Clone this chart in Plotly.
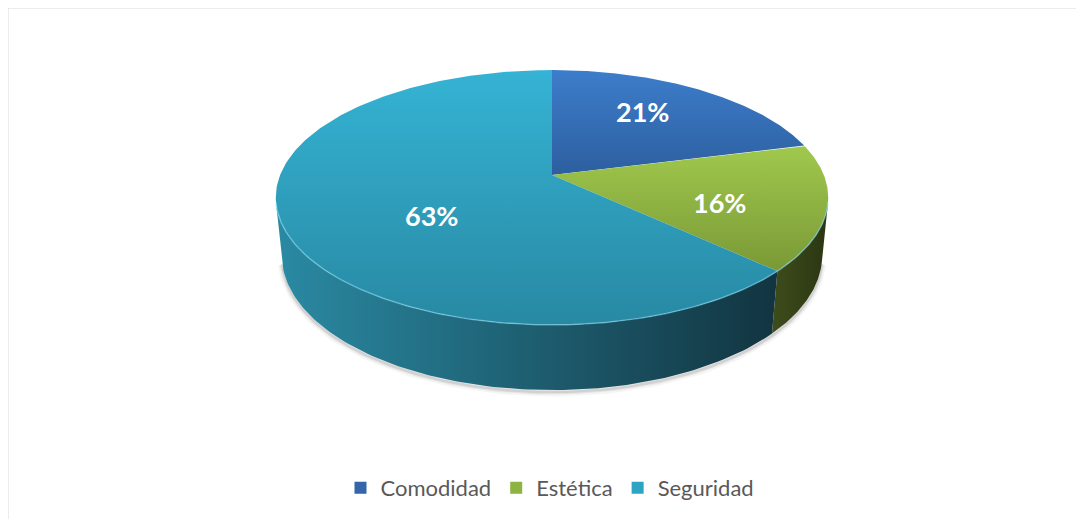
import numpy as np
import plotly.graph_objects as go

# data
categories = ["Comodidad", "Estética", "Seguridad"]
values = [21, 16, 63]
label_text = [f"{v}%" for v in values]

# styling
top_colors = [("#3d7dcb", "#2d5f9f"), ("#a0c84d", "#7a9936"), ("#35b3d4", "#2889a3")]
side_colors = [("#2a4f80", "#1d3a60"), ("#3e4d1c", "#2b3612"), ("#2a8aa3", "#123440")]
legend_colors = ["#3465a8", "#8db443", "#2ea3c2"]
label_radius = [0.67, 0.63, 0.52]
label_shift = [-4.8, 5.7, -12.9]  # degrees away from the slice middle

# the page body has an 8px margin, so axis units are page pixels
OFF = 8

# simple perspective camera for the tilted disk (pixel space)
CX, CY = 552, 175
FOCAL = 1373
DIST = 5.05
TILT = np.radians(27)
THICK = 0.241


def project(x, y, z):
    depth = DIST - z * np.cos(TILT) - y * np.sin(TILT)
    v = -z * np.sin(TILT) + y * np.cos(TILT)
    return CX + FOCAL * x / depth, CY - FOCAL * v / depth


def rim(theta_deg, y=0.0, r=1.0):
    th = np.radians(theta_deg)
    return project(r * np.sin(th), y * np.ones_like(th), -r * np.cos(th))


total = sum(values)
bounds = np.concatenate([[0], np.cumsum(values)]) / total * 360
vis_lo = np.degrees(np.arccos(-1 / (DIST * np.cos(TILT))))
vis_hi = 360 - vis_lo

fig = go.Figure()

# soft shadow under the front edge
th = np.linspace(vis_lo, vis_hi, 200)
xs, ys = rim(th, -THICK)
for w, a in [(9, 0.04), (5, 0.06), (2.5, 0.09)]:
    fig.add_trace(go.Scatter(x=xs, y=ys + 2, mode="lines",
                             line=dict(color=f"rgba(0,0,0,{a})", width=w),
                             hoverinfo="skip", showlegend=False))

# outer side walls (only the part facing the camera)
for i in range(len(values)):
    a, b = max(bounds[i], vis_lo), min(bounds[i + 1], vis_hi)
    if b <= a:
        continue
    th = np.linspace(a, b, 120)
    xt, yt = rim(th)
    xb, yb = rim(th[::-1], -THICK)
    fig.add_trace(go.Scatter(
        x=np.concatenate([xt, xb]), y=np.concatenate([yt, yb]),
        mode="lines", fill="toself", line=dict(width=0),
        fillgradient=dict(type="horizontal",
                          colorscale=[[0, side_colors[i][0]],
                                      [1, side_colors[i][1]]]),
        hoverinfo="skip", showlegend=False))

# top faces
for i in range(len(values)):
    th = np.linspace(bounds[i], bounds[i + 1], 200)
    xr, yr = rim(th)
    x0, y0 = project(0, 0, 0)
    fig.add_trace(go.Scatter(
        x=np.concatenate([[x0], xr, [x0]]),
        y=np.concatenate([[y0], yr, [y0]]),
        mode="lines", fill="toself", line=dict(width=0),
        fillgradient=dict(type="vertical",
                          colorscale=[[0, top_colors[i][1]],
                                      [1, top_colors[i][0]]]),
        hoverinfo="skip", showlegend=False))

# light edge along the front rim
th = np.linspace(vis_lo, vis_hi, 200)
xe, ye = rim(th)
fig.add_trace(go.Scatter(x=xe, y=ye, mode="lines",
                         line=dict(color="rgba(130,215,240,0.55)", width=1.5),
                         hoverinfo="skip", showlegend=False))

# percentage labels
for i in range(len(values)):
    mid = (bounds[i] + bounds[i + 1]) / 2 + label_shift[i]
    lx, ly = rim(np.array([mid]), 0.0, label_radius[i])
    fig.add_annotation(x=lx[0], y=ly[0], text=label_text[i], showarrow=False,
                       font=dict(family="Lato", size=27, color="white",
                                 weight="bold"))

# legend entries
for name, col in zip(categories, legend_colors):
    fig.add_trace(go.Scatter(x=[None], y=[None], mode="markers", name=name,
                             marker=dict(symbol="square", size=12, color=col,
                                         line=dict(width=0))))

fig.add_shape(type="rect", x0=8, y0=8, x1=1100, y1=540,
              line=dict(color="#d9d9d9", width=1))

fig.update_layout(
    width=1084, height=519,
    margin=dict(l=0, r=0, t=0, b=0),
    paper_bgcolor="white", plot_bgcolor="white",
    xaxis=dict(range=[OFF, 1084 + OFF], visible=False, fixedrange=True),
    yaxis=dict(range=[519 + OFF, OFF], visible=False, fixedrange=True),
    showlegend=True,
    legend=dict(orientation="h", x=0.5, xanchor="center",
                y=1 - (488 - OFF) / 519, yanchor="middle",
                font=dict(family="Lato", size=22, color="#595959"),
                itemclick=False, itemdoubleclick=False),
)

fig.write_html("out.html")
